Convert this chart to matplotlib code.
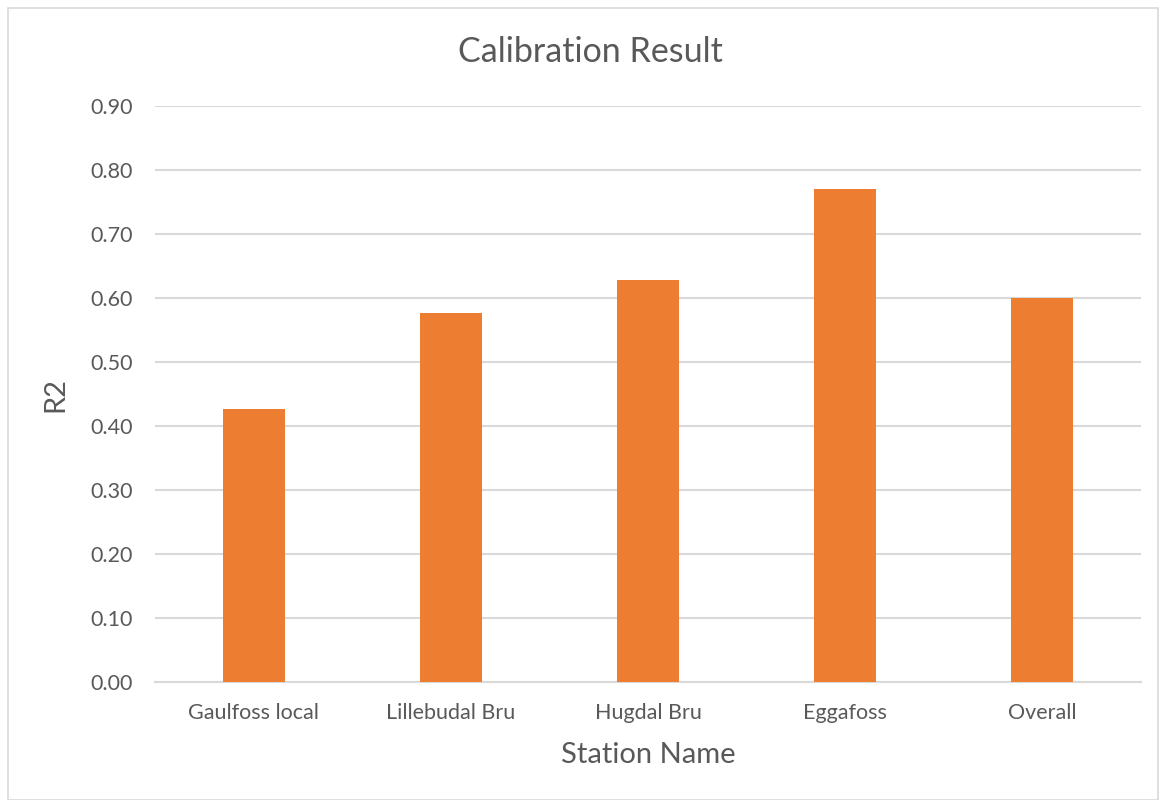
"""
Calibration result bar chart (R2 per station)
"""

import matplotlib
matplotlib.use('Agg')
from matplotlib import pyplot as plt
from matplotlib.patches import Rectangle

stations = ['Gaulfoss local', 'Lillebudal Bru', 'Hugdal Bru', 'Eggafoss', 'Overall']
r2_values = [0.427, 0.576, 0.628, 0.770, 0.600]
y_ticks = [0.0, 0.1, 0.2, 0.3, 0.4, 0.5, 0.6, 0.7, 0.8, 0.9]

TEXT = '#595959'
GRID = '#d9d9d9'
ORANGE = '#ED7D31'


def plot():
    plt.rcParams['font.family'] = ['Lato', 'DejaVu Sans']
    fig = plt.figure(figsize=(11.64, 8.0), dpi=100)
    ax = fig.add_axes([155 / 1164, 1 - 682 / 800, (1141 - 155) / 1164, (682 - 106) / 800])

    x = range(len(stations))
    ax.bar(x, r2_values, width=0.315, color=ORANGE, zorder=3)

    ax.set_xlim(-0.5, len(stations) - 0.5)
    ax.set_ylim(0, 0.9)
    ax.set_yticks(y_ticks)
    ax.set_yticklabels(['%.2f' % v for v in y_ticks])
    ax.set_xticks(list(x))
    ax.set_xticklabels(stations)

    ax.grid(axis='y', color=GRID, linewidth=1.5, zorder=0)
    for side in ['top', 'right', 'left']:
        ax.spines[side].set_visible(False)
    ax.spines['bottom'].set_color(GRID)
    ax.spines['bottom'].set_linewidth(1.5)
    ax.tick_params(axis='both', length=0, labelsize=15.5, colors=TEXT)
    ax.tick_params(axis='x', pad=15)
    ax.tick_params(axis='y', pad=16)

    ax.set_xlabel('Station Name', fontsize=21, color=TEXT, labelpad=14)
    ax.set_ylabel('R2', fontsize=21, color=TEXT, labelpad=16)
    fig.text(590 / 1164, 1 - 52 / 800, 'Calibration Result', fontsize=24.5, color=TEXT,
             ha='center', va='center')

    # chart frame
    fig.patches.append(Rectangle((8 / 1164, 0.0), 1150 / 1164, 792 / 800, transform=fig.transFigure,
                                 fill=False, edgecolor=GRID, linewidth=1.2))

    fig.savefig('out.png', dpi=100)


if __name__ == '__main__':
    plot()
